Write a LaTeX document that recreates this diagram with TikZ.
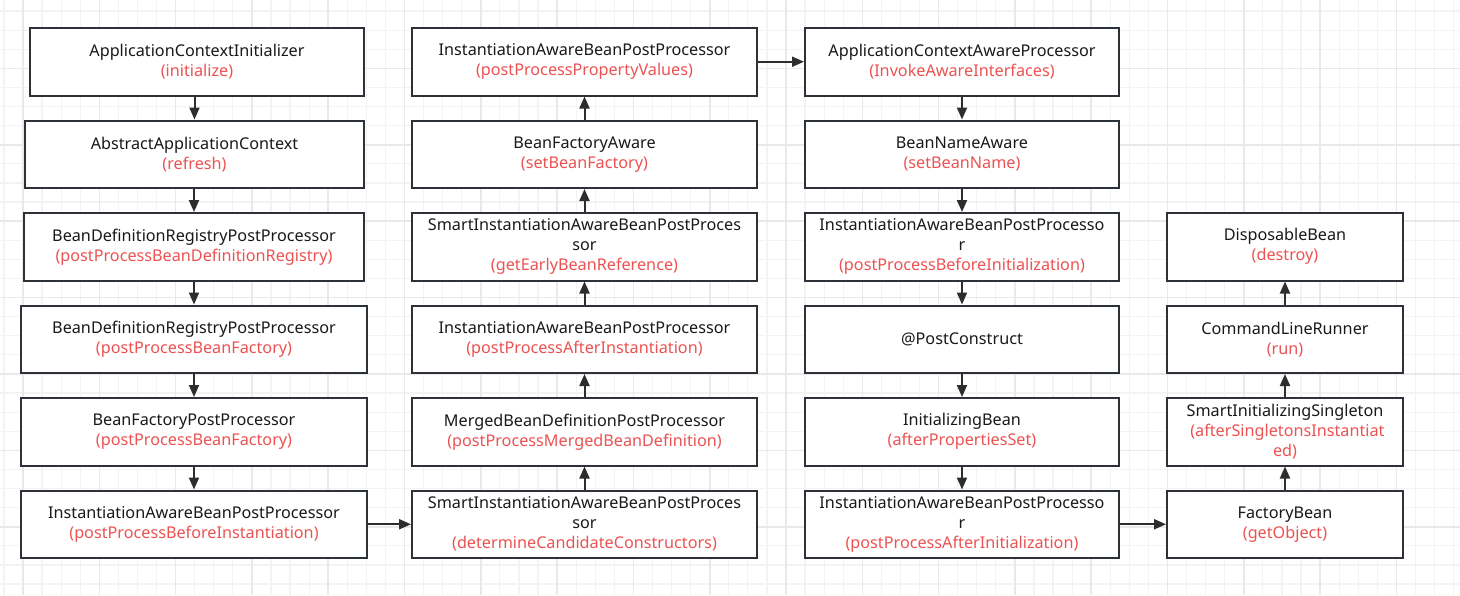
\documentclass[tikz,border=0pt]{standalone}
\usepackage{fontspec}
\setmainfont{Noto Sans}
\usetikzlibrary{arrows.meta}
\definecolor{bord}{RGB}{45,50,56}
\definecolor{redtxt}{RGB}{236,82,82}
\definecolor{gridminor}{RGB}{243,243,243}
\definecolor{gridmajor}{RGB}{233,233,233}
\definecolor{arrcol}{RGB}{45,45,45}
\tikzset{
  box/.style={draw=bord, line width=2pt, fill=white, inner sep=0pt,
    minimum height=67.5pt, align=center, font=\fontsize{16.2}{20}\selectfont, text=black!90},
  arr/.style={draw=arrcol, line width=2pt, -{Triangle[length=12pt,width=10pt]}},
}
\newcommand\mybox[6]{%
  \node[box, minimum width={#3pt-#2pt}] (#1) at ({(#2+#3)/2}, {61.75+92.5*(#4-1)}) {#5\\\color{redtxt}#6};}
\begin{document}
\begin{tikzpicture}[x=1pt,y=-1pt]
\useasboundingbox (0,0) rectangle (1460,595);
\begin{scope}
\clip (0,0) rectangle (1460,595);
\fill[white] (0,0) rectangle (1460,595);
\foreach \i in {-2,...,77} {
  \draw[gridminor, line width=1.2pt] ({23+\i*19.075},0) -- ({23+\i*19.075},595);
}
\foreach \i in {-5,...,32} {
  \draw[gridminor, line width=1.2pt] (0,{68.3+\i*19.1}) -- (1460,{68.3+\i*19.1});
}
\foreach \i in {-1,...,19} {
  \draw[gridmajor, line width=1.6pt] ({23+\i*76.3},0) -- ({23+\i*76.3},595);
}
\foreach \i in {-1,...,8} {
  \draw[gridmajor, line width=1.6pt] (0,{68.3+\i*76.4}) -- (1460,{68.3+\i*76.4});
}
\end{scope}

% column 1
\mybox{a1}{30}{364}{1}{ApplicationContextInitializer}{(initialize)}
\mybox{a2}{25}{364}{2}{AbstractApplicationContext}{(refresh)}
\mybox{a3}{24}{364}{3}{BeanDefinitionRegistryPostProcessor}{(postProcessBeanDefinitionRegistry)}
\mybox{a4}{21}{367}{4}{BeanDefinitionRegistryPostProcessor}{(postProcessBeanFactory)}
\mybox{a5}{21}{367}{5}{BeanFactoryPostProcessor}{(postProcessBeanFactory)}
\mybox{a6}{21}{367}{6}{InstantiationAwareBeanPostProcessor}{(postProcessBeforeInstantiation)}
% column 2
\mybox{b1}{412}{757}{1}{InstantiationAwareBeanPostProcessor}{(postProcessPropertyValues)}
\mybox{b2}{412}{757}{2}{BeanFactoryAware}{(setBeanFactory)}
\mybox{b3}{412}{757}{3}{SmartInstantiationAwareBeanPostProces\\sor}{(getEarlyBeanReference)}
\mybox{b4}{412}{757}{4}{InstantiationAwareBeanPostProcessor}{(postProcessAfterInstantiation)}
\mybox{b5}{412}{757}{5}{MergedBeanDefinitionPostProcessor}{(postProcessMergedBeanDefinition)}
\mybox{b6}{412}{757}{6}{SmartInstantiationAwareBeanPostProces\\sor}{(determineCandidateConstructors)}
% column 3
\mybox{c1}{805}{1119}{1}{ApplicationContextAwareProcessor}{(InvokeAwareInterfaces)}
\mybox{c2}{805}{1119}{2}{BeanNameAware}{(setBeanName)}
\mybox{c3}{805}{1119}{3}{InstantiationAwareBeanPostProcesso\\r}{(postProcessBeforeInitialization)}
\node[box, minimum width={1119pt-805pt}] (c4) at ({(805+1119)/2}, {61.75+92.5*3}) {@PostConstruct};
\mybox{c5}{805}{1119}{5}{InitializingBean}{(afterPropertiesSet)}
\mybox{c6}{805}{1119}{6}{InstantiationAwareBeanPostProcesso\\r}{(postProcessAfterInitialization)}
% column 4
\mybox{d3}{1167}{1403}{3}{DisposableBean}{(destroy)}
\mybox{d4}{1167}{1403}{4}{CommandLineRunner}{(run)}
\mybox{d5}{1167}{1403}{5}{SmartInitializingSingleton}{\hspace*{0.3em}(afterSingletonsInstantiat\\\color{redtxt}ed)}
\mybox{d6}{1167}{1403}{6}{FactoryBean}{(getObject)}

% arrows column 1 (down)
\draw[arr] (a1.south -| a2) -- (a2);
\draw[arr] (a2.south -| a3) -- (a3);
\draw[arr] (a3.south -| a4) -- (a4);
\draw[arr] (a4.south -| a5) -- (a5);
\draw[arr] (a5.south -| a6) -- (a6);
\draw[arr] (a6) -- (b6);
% column 2 (up)
\draw[arr] (b6.north) -- (b5);
\draw[arr] (b5.north) -- (b4);
\draw[arr] (b4.north) -- (b3);
\draw[arr] (b3.north) -- (b2);
\draw[arr] (b2.north) -- (b1);
\draw[arr] (b1) -- (c1);
% column 3 (down)
\draw[arr] (c1.south) -- (c2);
\draw[arr] (c2.south) -- (c3);
\draw[arr] (c3.south) -- (c4);
\draw[arr] (c4.south) -- (c5);
\draw[arr] (c5.south) -- (c6);
\draw[arr] (c6) -- (d6);
% column 4 (up)
\draw[arr] (d6.north) -- (d5);
\draw[arr] (d5.north) -- (d4);
\draw[arr] (d4.north) -- (d3);
\end{tikzpicture}
\end{document}
